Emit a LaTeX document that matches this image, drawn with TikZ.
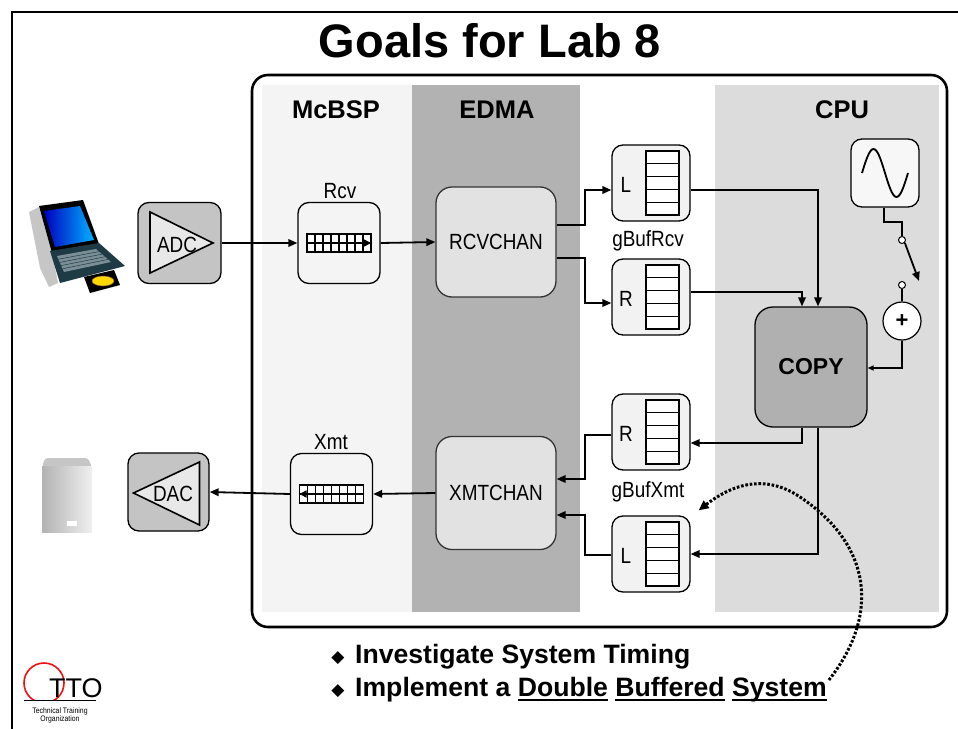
\documentclass[tikz,border=0pt]{standalone}
\usepackage{fontspec}
\setmainfont{Liberation Sans}
\newfontfamily\narrowsans{Liberation Sans}[FakeStretch=0.86]
\newfontfamily\symsans{DejaVu Sans}
\usetikzlibrary{arrows.meta,calc,shapes.geometric}

\definecolor{mcbspbg}{HTML}{F4F4F4}
\definecolor{edmabg}{HTML}{B2B2B2}
\definecolor{cpubg}{HTML}{DCDCDC}
\definecolor{convgray}{HTML}{C4C4C4}
\definecolor{trigray}{HTML}{E8E8E8}
\definecolor{chanfill}{HTML}{E2E2E2}
\definecolor{buffill}{HTML}{F2F2F2}
\definecolor{copyfill}{HTML}{B0B0B0}
\definecolor{tealdark}{HTML}{1E3A44}
\definecolor{keygray}{HTML}{7A8E96}
\definecolor{ttored}{HTML}{F01010}

% underlined word with a heavy rule
\newcommand\ulword[1]{\setbox0\hbox{#1}\rlap{\rule[-4.5pt]{\wd0}{2.2pt}}\box0}

\tikzset{
  conn/.style={line width=1.8pt, -{Triangle[length=9pt,width=7.5pt]}},
  wire/.style={line width=1.8pt},
  rbox/.style={draw=black, line width=1.3pt, rounded corners=11pt, inner sep=0pt},
  lbl/.style={font=\narrowsans\fontsize{22}{22}\selectfont, inner sep=0pt},
  hdr/.style={font=\bfseries\fontsize{25.5}{25.5}\selectfont, inner sep=0pt},
  bullet/.style={font=\bfseries\fontsize{26.6}{26.6}\selectfont, inner sep=0pt, anchor=west},
  gridline/.style={line width=1.2pt},
}

% five-slot buffer drawn beside the letter of a buffer box
\newcommand\bufgrid[1]{%
  \draw[gridline, fill=white] ($(#1.center)+(-5,-32)$) rectangle ($(#1.center)+(28,32)$);
  \foreach \k in {1,...,4}
    \draw[gridline] ($(#1.center)+(-5,-32+12.8*\k)$) -- ($(#1.center)+(28,-32+12.8*\k)$);
}
% serial port shift register, 8 x 2 cells
\newcommand\shiftgrid[1]{%
  \draw[gridline, fill=white] ($(#1.center)+(-32,-9)$) rectangle ($(#1.center)+(32,9)$);
  \draw[gridline] ($(#1.center)+(-32,0)$) -- ($(#1.center)+(32,0)$);
  \foreach \k in {1,...,7}
    \draw[gridline] ($(#1.center)+(-32+8*\k,-9)$) -- ($(#1.center)+(-32+8*\k,9)$);
}

\begin{document}
\begin{tikzpicture}[x=1pt,y=-1pt]
\useasboundingbox (0,0) rectangle (958,728);
\clip (0,0) rectangle (958,728);

% slide frame
\draw[line width=2.2pt] (12,740) -- (12,12) -- (970,12);

% title
\node[font=\bfseries\fontsize{47}{47}\selectfont, inner sep=0pt] (title) at (490,41) {Goals for Lab 8};

% column backgrounds
\fill[mcbspbg] (262,85) rectangle (412,612);
\fill[edmabg]  (412,85) rectangle (580,612);
\fill[cpubg]   (715,85) rectangle (939,612);
\draw[line width=2.6pt, rounded corners=16pt] (252,75) rectangle (947,627);

\node[hdr] (hmcbsp) at (336,110) {McBSP};
\node[hdr] (hedma)  at (497,110) {EDMA};
\node[hdr] (hcpu)   at (842,110) {CPU};

% ---------- laptop ----------
\fill[gray!45] (29,212) -- (39,207) -- (52,252) -- (58,283) -- (49,287) -- (40,268) -- cycle;
\fill[black] (39,206) -- (83,200) -- (99,244) -- (52,253) -- cycle;
\shade[left color=blue!75!black, right color=cyan!70!blue] (44,211) -- (80,206) -- (94,240) -- (55,247) -- cycle;
\fill[tealdark] (50,251) -- (99,243) -- (125,266) -- (60,283) -- cycle;
\fill[keygray] (57,256) -- (96,249) -- (111,262) -- (64,272) -- cycle;
\foreach \t in {0.2,0.4,0.6,0.8}
  \draw[tealdark, line width=0.5pt] ($(57,256)!\t!(64,272)$) -- ($(96,249)!\t!(111,262)$);
\fill[black] (84,277) -- (114,270) -- (120,285) -- (90,293) -- cycle;
\fill[yellow!75!orange, draw=brown!70!black, line width=0.5pt] (103,281) ellipse [x radius=11, y radius=5];

% ---------- speaker ----------
\fill[gray!45, rounded corners=3pt] (45,458) -- (88,458) -- (92,467) -- (42,467) -- cycle;
\shade[left color=gray!60, right color=gray!12] (42,466) rectangle (92,532);
\fill[white] (67,521) rectangle (77,526);

% ---------- converters ----------
\node[rbox, fill=convgray, minimum width=83pt, minimum height=81pt] (adc) at (179.5,243) {};
\draw[line width=1.6pt, fill=trigray] ($(adc)+(-29.5,-31)$) -- ($(adc)+(33.5,0)$) -- ($(adc)+(-29.5,30)$) -- cycle;
\node[lbl] (adctxt) at (177,245) {ADC};

\node[rbox, fill=convgray, minimum width=81pt, minimum height=78pt] (dac) at (168.5,492) {};
\draw[line width=1.6pt, fill=trigray] ($(dac)+(31,-30)$) -- ($(dac)+(-35,1)$) -- ($(dac)+(31,33)$) -- cycle;
\node[lbl] (dactxt) at (173,494) {DAC};

% ---------- McBSP ports ----------
\node[rbox, fill=mcbspbg, minimum width=82pt, minimum height=81pt] (rcv) at (339,243) {};
\node[lbl, anchor=south] (rcvtxt) at (340,199) {Rcv};
\shiftgrid{rcv}
\draw[line width=1.4pt, -{Triangle[length=7pt,width=7pt]}] ($(rcv)+(-32,0)$) -- ($(rcv)+(32,0)$);

\node[rbox, fill=mcbspbg, minimum width=82pt, minimum height=81pt] (xmt) at (331.5,494) {};
\node[lbl, anchor=south] (xmttxt) at (331,450) {Xmt};
\shiftgrid{xmt}
\draw[line width=1.4pt, -{Triangle[length=7pt,width=7pt]}] ($(xmt)+(32,0)$) -- ($(xmt)+(-32,0)$);

% ---------- EDMA channels ----------
\node[rbox, draw=black!80, fill=chanfill, minimum width=120pt, minimum height=110pt, rounded corners=16pt, lbl] (rcvchan) at (496,242) {RCVCHAN};
\node[rbox, draw=black!80, fill=chanfill, minimum width=120pt, minimum height=113pt, rounded corners=16pt, lbl] (xmtchan) at (496,493) {XMTCHAN};

% ---------- ping-pong buffers ----------
\node[rbox, fill=buffill, minimum width=78pt, minimum height=76pt] (lrcv) at (651,183) {};
\node[rbox, fill=buffill, minimum width=78pt, minimum height=76pt] (rrcv) at (651,297) {};
\node[rbox, fill=buffill, minimum width=78pt, minimum height=76pt] (rxmt) at (651,432) {};
\node[rbox, fill=buffill, minimum width=78pt, minimum height=76pt] (lxmt) at (651,554) {};
\bufgrid{lrcv}\bufgrid{rrcv}\bufgrid{rxmt}\bufgrid{lxmt}
\node[lbl] (lrcvtxt) at (626,185) {L};
\node[lbl] (rrcvtxt) at (626,299) {R};
\node[lbl] (rxmttxt) at (626,434) {R};
\node[lbl] (lxmttxt) at (626,556) {L};
\node[lbl] (gbufrcv) at (648,241) {gBufRcv};
\node[lbl] (gbufxmt) at (648,492) {gBufXmt};

% ---------- CPU ----------
\node[rbox, fill=copyfill, minimum width=112pt, minimum height=120pt, rounded corners=18pt,
      font=\bfseries\fontsize{23}{23}\selectfont] (copy) at (811,367) {COPY};
\node[rbox, fill=white!97!black, minimum width=68pt, minimum height=68pt] (sine) at (885,173) {};
\draw[line width=1.8pt] (862,173) sin (873.5,149) cos (885,173) sin (896.5,197) cos (908,173);
\node[circle, draw, line width=1.2pt, fill=white, minimum size=38pt, inner sep=0pt,
      font=\bfseries\fontsize{22}{22}\selectfont] (plus) at (902,321) {+};
\node[circle, draw, line width=1pt, fill=white, minimum size=7pt, inner sep=0pt] (sw1) at (902,240) {};
\node[circle, draw, line width=1pt, fill=white, minimum size=7pt, inner sep=0pt] (sw2) at (902,285) {};
\coordinate (swtip) at (919,281);

% ---------- connectors ----------
\draw[conn] (adc.east) -- (rcv.west);
\draw[conn] (rcv.east) -- (rcvchan.west);
\draw[conn] ($(rcvchan.east)+(0,-17)$) -| (585,190) -- ($(lrcv.west)+(0,7)$);
\draw[conn] ($(rcvchan.east)+(0,16)$) -| (585,303) -- ($(rrcv.west)+(0,6)$);
\draw[conn] ($(lrcv.east)+(0,7)$) -| ($(copy.north)+(7,0)$);
\draw[conn] ($(rrcv.east)+(0,-5)$) -| ($(copy.north)+(-9,0)$);
\draw[conn] ($(copy.south)+(-9,0)$) |- ($(rxmt.east)+(0,11)$);
\draw[conn] ($(copy.south)+(7,0)$) |- ($(lxmt.east)+(0,0)$);
\draw[conn] ($(rxmt.west)+(0,3)$) -| (585,479) -- ($(xmtchan.east)+(0,-14)$);
\draw[conn] ($(lxmt.west)+(0,1)$) -| (585,515) -- ($(xmtchan.east)+(0,22)$);
\draw[conn] (xmtchan.west) -- (xmt.east);
\draw[conn] (xmt.west) -- (dac.east);
\draw[line width=1.4pt] (sine.south -| 884,0) -- (884,222) -| (sw1.north);
\draw[line width=1.8pt, -{Triangle[length=9pt,width=7.5pt]}] (sw1.south east) -- (swtip);
\draw[line width=1.4pt] (sw2.south) -- (plus.north);
\draw[line width=1.8pt, -{Triangle[length=6pt,width=5pt]}] (plus.south) |- ($(copy.east)+(0,1)$);

% ---------- goals ----------
\node[font=\symsans\fontsize{17}{17}\selectfont, inner sep=0pt] (dot1) at (338,658) {◆};
\node[font=\symsans\fontsize{17}{17}\selectfont, inner sep=0pt] (dot2) at (338,691) {◆};
\node[bullet] (goal1) at (355,657) {Investigate System Timing};
\node[bullet] (goal2) at (355,690) {Implement a \ulword{Double}\ \ulword{Buffered}\ \ulword{System}};

% double-buffer callout
\draw[line width=3pt, dash pattern=on 2.6pt off 1.8pt, -{Triangle[length=10pt,width=9pt]}]
  ($(goal2.east)+(2,-10)$) .. controls (880,615) and (872,545) .. (800,497)
  .. controls (760,470) and (725,490) .. ($(lxmt.north east)+(8,-5)$);

% ---------- TTO logo ----------
\begin{scope}
  \clip (0,600) rectangle (120,700);
  \draw[ttored, line width=1.6pt] (44,683) circle [radius=20];
\end{scope}
\node[font=\fontsize{27}{27}\selectfont, inner sep=0pt, anchor=base west] (tto) at (49,697) {TTO};
\draw[line width=1pt] (24,700.5) -- (96,700.5);
\node[font=\narrowsans\fontsize{8}{8}\selectfont, inner sep=0pt, align=center] (ttosub) at (60,715) {Technical Training\\Organization};
\end{tikzpicture}
\end{document}
